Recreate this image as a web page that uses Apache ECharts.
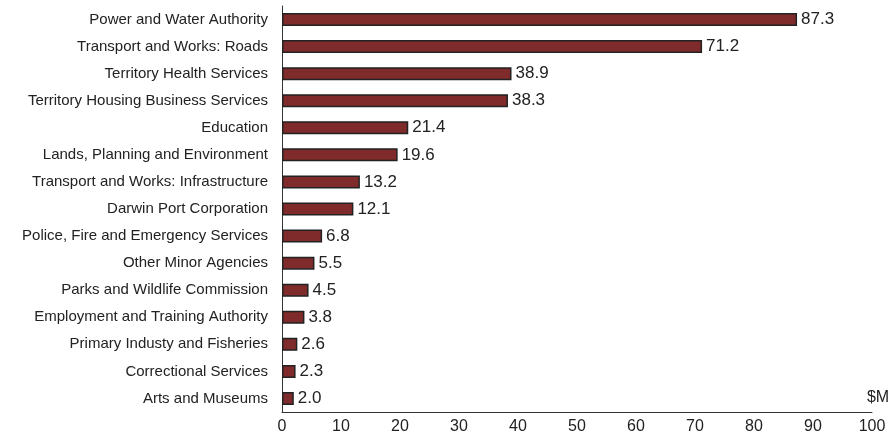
<!DOCTYPE html>
<html><head><meta charset="utf-8">
<script src="https://cdn.jsdelivr.net/npm/echarts@6/dist/echarts.min.js"></script>
<style>html,body{margin:0;padding:0;background:#fff}#c{width:893px;height:438px}</style>
</head><body><div id="c"></div>
<script>
const categories = ["Power and Water Authority","Transport and Works: Roads","Territory Health Services","Territory Housing Business Services","Education","Lands, Planning and Environment","Transport and Works: Infrastructure","Darwin Port Corporation","Police, Fire and Emergency Services","Other Minor Agencies","Parks and Wildlife Commission","Employment and Training Authority","Primary Industy and Fisheries","Correctional Services","Arts and Museums"];
const values = [87.3,71.2,38.9,38.3,21.4,19.6,13.2,12.1,6.8,5.5,4.5,3.8,2.6,2.3,2.0];
const xTicks = [0,10,20,30,40,50,60,70,80,90,100];
const FONT = "'Liberation Sans Narrow','Arial Narrow','Liberation Sans',Arial,sans-serif";
const chart = echarts.init(document.getElementById('c'));
chart.setOption({
  animation:false,
  textStyle:{fontFamily:FONT},
  grid:{left:282,right:21,top:6,bottom:26,containLabel:false},
  xAxis:{type:'value',min:xTicks[0],max:xTicks[xTicks.length-1],interval:10,
    axisLine:{show:true,lineStyle:{color:'#333',width:1}},axisTick:{show:false},
    splitLine:{show:false},
    axisLabel:{color:'#222',fontSize:16,fontFamily:FONT,margin:7},
    name:'$M',nameLocation:'end',nameGap:6,
    nameTextStyle:{color:'#222',fontSize:16,fontFamily:FONT,align:'center',verticalAlign:'bottom',padding:[0,0,6,0]}},
  yAxis:{type:'category',data:categories,inverse:true,
    axisLine:{show:true,lineStyle:{color:'#333',width:1}},axisTick:{show:false},
    axisLabel:{color:'#222',fontSize:15,fontFamily:FONT,margin:14}},
  series:[{type:'bar',data:values,barWidth:13,
    itemStyle:{color:'#7f2b2b',borderColor:'#222',borderWidth:1.5},
    label:{show:true,position:'right',distance:4,color:'#222',fontSize:17,fontFamily:FONT,
      formatter:p=>p.value.toFixed(1)}}]
});
</script></body></html>
